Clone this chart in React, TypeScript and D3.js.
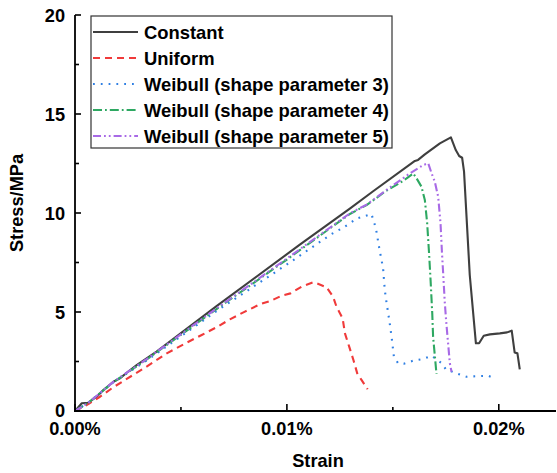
import * as d3 from 'd3';
import React from 'react';

// strain in percent, stress in MPa
const constantStrain = [0, 0.00032, 0.00063, 0.00102, 0.00134, 0.00181, 0.00212, 0.00244, 0.00291, 0.00338, 0.00385, 0.00668, 0.01061, 0.01297, 0.01407, 0.01604, 0.01619, 0.01651, 0.01722, 0.01774, 0.01797, 0.01813, 0.01827, 0.01836, 0.01863, 0.01892, 0.01907, 0.01929, 0.01958, 0.02005, 0.02039, 0.02061, 0.02075, 0.02088, 0.02099];
const constantStress = [0, 0.39, 0.42, 0.72, 1.06, 1.48, 1.65, 1.93, 2.32, 2.66, 3.0, 5.3, 8.4, 10.22, 11.1, 12.63, 12.68, 12.96, 13.52, 13.82, 13.18, 12.88, 12.79, 12.09, 6.87, 3.42, 3.42, 3.8, 3.87, 3.92, 3.97, 4.06, 2.95, 2.91, 2.1];

const uniformStrain = [0, 0.00063, 0.00118, 0.00181, 0.00244, 0.00338, 0.00433, 0.00527, 0.00598, 0.00668, 0.00731, 0.00802, 0.00873, 0.00923, 0.00975, 0.01017, 0.01069, 0.01124, 0.0114, 0.01187, 0.01218, 0.01234, 0.01263, 0.01274, 0.01294, 0.01313, 0.01332, 0.01352, 0.01381];
const uniformStress = [0, 0.35, 0.72, 1.2, 1.62, 2.24, 2.91, 3.45, 3.84, 4.23, 4.63, 5.02, 5.39, 5.56, 5.82, 5.94, 6.28, 6.5, 6.45, 6.25, 5.77, 5.27, 4.68, 3.92, 3.25, 2.61, 1.9, 1.57, 1.1];

const weibull3Strain = [0, 0.00063, 0.00181, 0.00338, 0.00668, 0.01, 0.01211, 0.01269, 0.01332, 0.01368, 0.01399, 0.0142, 0.01436, 0.01454, 0.01462, 0.0147, 0.01483, 0.01494, 0.01505, 0.01525, 0.01552, 0.01596, 0.01643, 0.01683, 0.01731, 0.0175, 0.018, 0.01848, 0.01923, 0.0195, 0.01986];
const weibull3Stress = [0, 0.42, 1.45, 2.55, 5.05, 7.4, 8.94, 9.28, 9.73, 9.85, 9.95, 9.23, 8.22, 7.21, 6.11, 5.49, 4.6, 3.75, 2.74, 2.41, 2.39, 2.54, 2.63, 2.79, 2.41, 2.11, 1.9, 1.73, 1.77, 1.78, 1.63];

const weibull4Strain = [0, 0.00063, 0.00181, 0.00338, 0.00668, 0.01, 0.01297, 0.01376, 0.01431, 0.01462, 0.0153, 0.01565, 0.01596, 0.01612, 0.01635, 0.01651, 0.01662, 0.01671, 0.01678, 0.01686, 0.0169, 0.017, 0.01706];
const weibull4Stress = [0, 0.42, 1.46, 2.6, 5.15, 7.65, 9.95, 10.4, 10.82, 11.08, 11.5, 11.75, 12.0, 11.75, 11.33, 10.66, 9.48, 7.96, 6.62, 4.93, 3.75, 2.58, 1.87];

const weibull5Strain = [0, 0.00063, 0.00181, 0.00338, 0.00668, 0.01, 0.01297, 0.01376, 0.01431, 0.01462, 0.0158, 0.01643, 0.01667, 0.01683, 0.01698, 0.01714, 0.01725, 0.01732, 0.01738, 0.01745, 0.01752, 0.01758, 0.01769, 0.01777];
const weibull5Stress = [0, 0.42, 1.47, 2.62, 5.18, 7.7, 9.98, 10.42, 10.85, 11.1, 12.0, 12.42, 12.51, 12.0, 11.58, 10.82, 9.48, 7.96, 6.87, 5.5, 4.5, 3.75, 2.41, 1.98];

const seriesNames = ['Constant', 'Uniform', 'Weibull (shape parameter 3)', 'Weibull (shape parameter 4)', 'Weibull (shape parameter 5)'];

const yMajor = [0, 5, 10, 15, 20];
const yMinor = [2.5, 7.5, 12.5, 17.5];
const yTickLabels = ['0', '5', '10', '15', '20'];
const xMajor = [0, 0.01, 0.02];
const xMinor = [0.005, 0.015];
const xTickLabels = ['0.00%', '0.01%', '0.02%'];

const FONT = '"Liberation Sans", Arial, sans-serif';

export default function App() {
  const width = 557;
  const height = 473;

  const x = d3.scaleLinear().domain([0, 0.0227]).range([75, 556]);
  const y = d3.scaleLinear().domain([0, 20]).range([411, 15]);

  const styles = [
    { color: '#3f3f3f', dash: null },
    { color: '#f03a3a', dash: '7,5' },
    { color: '#2f7fe3', dash: '1.8,6' },
    { color: '#2ea862', dash: '9,3,1.8,3' },
    { color: '#a86ae6', dash: '8,3,1.8,3,1.8,3' },
  ];

  const raw = [
    [constantStrain, constantStress],
    [uniformStrain, uniformStress],
    [weibull3Strain, weibull3Stress],
    [weibull4Strain, weibull4Stress],
    [weibull5Strain, weibull5Stress],
  ];

  const series = raw.map(([s, v], i) => ({
    name: seriesNames[i],
    points: s.map((d, j) => [d, v[j]] as [number, number]),
    ...styles[i],
  }));

  const line = d3.line<[number, number]>()
    .x(d => x(d[0]))
    .y(d => y(d[1]));

  const x0 = x.range()[0];
  const y0 = y.range()[0];

  return (
    <svg width={width} height={height} style={{ position: 'absolute', left: 0, top: 0, background: '#fff' }}
      fontFamily={FONT} fontWeight="bold">
      {/* curves */}
      {series.map((s, i) => (
        <path key={i} d={line(s.points) || ''} fill="none" stroke={s.color} strokeWidth={2.1}
          strokeDasharray={s.dash || undefined} strokeLinejoin="round" />
      ))}

      {/* axes */}
      <line x1={x0} x2={x0} y1={y(20)} y2={y0 + 1} stroke="#000" strokeWidth={1.8} />
      <line x1={x0 - 1} x2={x.range()[1]} y1={y0} y2={y0} stroke="#000" strokeWidth={1.8} />

      {yMajor.map((v, i) => (
        <g key={'ym' + i}>
          <line x1={x0} x2={x0 + 6} y1={y(v)} y2={y(v)} stroke="#000" strokeWidth={1.6} />
          <text x={65} y={y(v) + (v === 0 ? 5.5 : 6.5)} textAnchor="end" fontSize={18.2}>{yTickLabels[i]}</text>
        </g>
      ))}
      {yMinor.map((v, i) => (
        <line key={'yn' + i} x1={x0} x2={x0 + 4} y1={y(v)} y2={y(v)} stroke="#000" strokeWidth={1.6} />
      ))}
      {xMajor.map((v, i) => (
        <g key={'xm' + i}>
          <line x1={x(v)} x2={x(v)} y1={y0} y2={y0 - 7} stroke="#000" strokeWidth={1.6} />
          <text x={x(v)} y={434.5} textAnchor="middle" fontSize={18.2}>{xTickLabels[i]}</text>
        </g>
      ))}
      {xMinor.map((v, i) => (
        <line key={'xn' + i} x1={x(v)} x2={x(v)} y1={y0} y2={y0 - 4} stroke="#000" strokeWidth={1.6} />
      ))}

      {/* axis titles */}
      <text transform="translate(23,203) rotate(-90)" textAnchor="middle" fontSize={18.2}>Stress/MPa</text>
      <text x={318} y={466.5} textAnchor="middle" fontSize={18.2}>Strain</text>

      {/* legend */}
      <rect x={91} y={16} width={301} height={132} fill="#fff" stroke="#333" strokeWidth={1.2} />
      {series.map((s, i) => {
        const cy = 32 + i * 26;
        return (
          <g key={'lg' + i}>
            <line x1={93} x2={138} y1={cy} y2={cy} stroke={s.color} strokeWidth={2}
              strokeDasharray={s.dash || undefined} />
            <text x={144} y={cy + 6.5} fontSize={18.4}>{s.name}</text>
          </g>
        );
      })}
    </svg>
  );
}
